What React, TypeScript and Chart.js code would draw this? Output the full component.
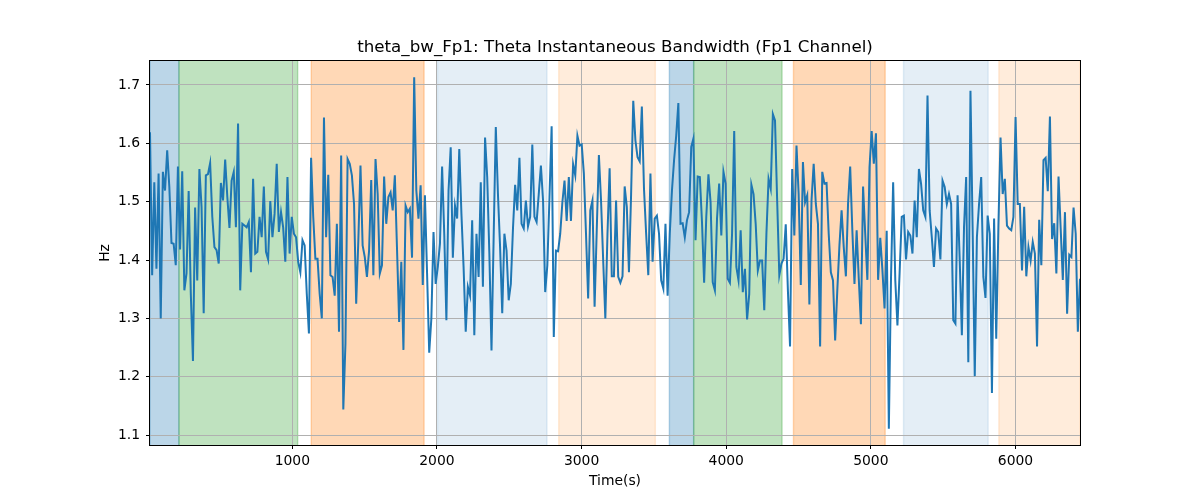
import React, { useEffect, useRef } from "react";
import { Chart, registerables } from "chart.js";

Chart.register(...registerables);

const TITLE = "theta_bw_Fp1: Theta Instantaneous Bandwidth (Fp1 Channel)";
const X_LABEL = "Time(s)";
const Y_LABEL = "Hz";

// sampling of the series (seconds)
const START_TIME = 16;
const TIME_STEP = 14.85;

// theta bandwidth values (Hz)
const bwValues = [
  1.619, 1.374, 1.533, 1.385, 1.548, 1.300, 1.551, 1.519, 1.588, 1.525, 1.429, 1.428, 1.391, 1.560, 1.418, 1.552, 1.348, 1.377, 1.518, 1.342, 1.227, 1.490, 1.365, 1.556, 1.491, 1.309, 1.545, 1.547, 1.566, 1.474, 1.422, 1.417, 1.394, 1.532, 1.502, 1.572, 1.508, 1.455, 1.536, 1.551, 1.456, 1.634, 1.348, 1.462,
  1.459, 1.456, 1.465, 1.379, 1.539, 1.411, 1.414, 1.474, 1.439, 1.526, 1.414, 1.401, 1.501, 1.439, 1.479, 1.565, 1.448, 1.482, 1.456, 1.397, 1.542, 1.411, 1.474, 1.445, 1.439, 1.397, 1.379, 1.434, 1.425, 1.342, 1.274, 1.575, 1.474, 1.402, 1.402, 1.342, 1.300, 1.644, 1.439, 1.546, 1.374, 1.371, 1.339, 1.462,
  1.277, 1.579, 1.144, 1.257, 1.573, 1.565, 1.545, 1.496, 1.325, 1.434, 1.562, 1.425, 1.405, 1.371, 1.416, 1.537, 1.374, 1.573, 1.513, 1.377, 1.391, 1.543, 1.462, 1.508, 1.516, 1.485, 1.545, 1.420, 1.294, 1.397, 1.246, 1.493, 1.482, 1.488, 1.404, 1.713, 1.519, 1.471, 1.528, 1.357, 1.511, 1.377, 1.241,
  1.300, 1.448, 1.359, 1.388, 1.428, 1.560, 1.445, 1.297, 1.519, 1.593, 1.404, 1.493, 1.471, 1.590, 1.479, 1.388, 1.277, 1.354, 1.339, 1.468, 1.271, 1.445, 1.371, 1.533, 1.354, 1.610, 1.542, 1.411, 1.245, 1.439, 1.628, 1.513, 1.422, 1.309, 1.445, 1.416, 1.331, 1.359, 1.454, 1.529, 1.485, 1.575, 1.462, 1.454, 1.502,
  1.458, 1.474, 1.598, 1.474, 1.465, 1.513, 1.562, 1.502, 1.345, 1.391, 1.508, 1.629, 1.268, 1.416, 1.415, 1.445, 1.499, 1.536, 1.467, 1.542, 1.467, 1.564, 1.545, 1.613, 1.596, 1.598, 1.548, 1.445, 1.334, 1.485, 1.502, 1.320, 1.451, 1.580, 1.502, 1.399, 1.300, 1.445, 1.557, 1.372, 1.372, 1.502, 1.371, 1.361,
  1.372, 1.526, 1.491, 1.379, 1.513, 1.673, 1.605, 1.576, 1.569, 1.663, 1.522, 1.445, 1.374, 1.548, 1.397, 1.471, 1.476, 1.445, 1.365, 1.351, 1.462, 1.339, 1.445, 1.518, 1.571, 1.613, 1.669, 1.462, 1.463, 1.439, 1.468, 1.482, 1.594, 1.608, 1.434, 1.543, 1.542, 1.465, 1.361, 1.474, 1.547, 1.499, 1.362, 1.348,
  1.471, 1.531, 1.442, 1.551, 1.531, 1.368, 1.361, 1.445, 1.621, 1.388, 1.365, 1.451, 1.345, 1.385, 1.298, 1.342, 1.529, 1.513, 1.462, 1.382, 1.399, 1.399, 1.314, 1.445, 1.539, 1.522, 1.650, 1.639, 1.502, 1.374, 1.394, 1.402, 1.461, 1.348, 1.252, 1.556, 1.442, 1.596, 1.513, 1.357, 1.568, 1.499, 1.511, 1.324, 1.502, 1.565,
  1.496, 1.462, 1.252, 1.551, 1.531, 1.532, 1.445, 1.379, 1.365, 1.262, 1.348, 1.425, 1.485, 1.422, 1.372, 1.496, 1.560, 1.451, 1.359, 1.451, 1.368, 1.290, 1.526, 1.445, 1.366, 1.559, 1.621, 1.565, 1.617, 1.366, 1.438, 1.383, 1.317, 1.450, 1.111, 1.368, 1.533, 1.365, 1.288, 1.377, 1.474, 1.476, 1.401,
  1.448, 1.442, 1.411, 1.502, 1.439, 1.556, 1.531, 1.485, 1.474, 1.682, 1.485, 1.439, 1.388, 1.454, 1.448, 1.401, 1.536, 1.525, 1.496, 1.513, 1.496, 1.297, 1.291, 1.511, 1.399, 1.271, 1.456, 1.542, 1.225, 1.690, 1.456, 1.201, 1.439, 1.496, 1.542, 1.371, 1.335, 1.476, 1.445, 1.172, 1.471, 1.265, 1.456, 1.610, 1.513,
  1.539, 1.459, 1.454, 1.451, 1.474, 1.645, 1.496, 1.496, 1.382, 1.491, 1.372, 1.422, 1.399, 1.431, 1.411, 1.252, 1.469, 1.391, 1.571, 1.575, 1.518, 1.646, 1.436, 1.463, 1.377, 1.543, 1.454, 1.366, 1.482, 1.308, 1.409, 1.405, 1.490, 1.445, 1.277, 1.368,
];

const xTicks = [1000, 2000, 3000, 4000, 5000, 6000];
const yTicks = [1.1, 1.2, 1.3, 1.4, 1.5, 1.6, 1.7];
const Y_MIN = 1.083;
const Y_MAX = 1.741;

// shaded stage bands
const bandStarts = [16, 216, 1131, 2004, 2842, 3607, 3775, 4465, 5226, 5885];
const bandEnds = [216, 1037, 1911, 2761, 3510, 3775, 4386, 5099, 5811, 6447];
const bandColors = [
  "31,119,180", "44,160,44", "255,127,14", "31,119,180", "255,127,14",
  "31,119,180", "44,160,44", "255,127,14", "31,119,180", "255,127,14",
];
const bandAlphas = [0.3, 0.3, 0.3, 0.12, 0.15, 0.3, 0.3, 0.3, 0.12, 0.15];

const FONT = "DejaVu Sans";

export default function App() {
  const canvasRef = useRef<HTMLCanvasElement | null>(null);

  useEffect(() => {
    const canvas = canvasRef.current;
    if (!canvas) return;
    Chart.defaults.font.family = FONT;

    const times = bwValues.map((_, i) => START_TIME + i * TIME_STEP);
    const points = bwValues.map((v, i) => ({ x: times[i], y: v }));

    const bandPlugin = {
      id: "bands",
      beforeDraw(chart: any) {
        const { ctx, chartArea } = chart;
        const { top, bottom, left, right } = chartArea;
        const xs = chart.scales.x;
        ctx.save();
        ctx.beginPath();
        ctx.rect(left, top, right - left, bottom - top);
        ctx.clip();
        bandStarts.forEach((s, i) => {
          const x0 = xs.getPixelForValue(s);
          const x1 = xs.getPixelForValue(bandEnds[i]);
          const col = `rgba(${bandColors[i]},${bandAlphas[i]})`;
          ctx.fillStyle = col;
          ctx.fillRect(x0, top, x1 - x0, bottom - top);
          ctx.strokeStyle = col;
          ctx.lineWidth = 1.4;
          ctx.beginPath();
          ctx.moveTo(x0, top);
          ctx.lineTo(x0, bottom);
          ctx.moveTo(x1, top);
          ctx.lineTo(x1, bottom);
          ctx.stroke();
        });
        ctx.restore();
      },
      afterDraw(chart: any) {
        const { ctx, chartArea } = chart;
        const { top, bottom, left, right } = chartArea;
        ctx.save();
        ctx.strokeStyle = "#000";
        ctx.lineWidth = 1;
        ctx.strokeRect(left - 0.5, top - 0.5, right - left + 1, bottom - top + 1);
        ctx.fillStyle = "#000";
        ctx.font = `16.7px "${FONT}"`;
        ctx.textAlign = "center";
        ctx.textBaseline = "alphabetic";
        ctx.fillText(TITLE, (left + right) / 2, 52);
        ctx.restore();
      },
    };

    const chart = new Chart(canvas, {
      type: "line",
      data: {
        datasets: [
          {
            data: points,
            borderColor: "#1f77b4",
            borderWidth: 2,
            pointRadius: 0,
            pointHoverRadius: 0,
            fill: false,
            tension: 0,
            clip: 0,
          } as any,
        ],
      },
      options: {
        responsive: false,
        animation: false,
        events: [],
        layout: { padding: { top: 61, right: 120, left: 0, bottom: 0 } },
        plugins: {
          legend: { display: false },
          tooltip: { enabled: false },
          title: { display: false },
        },
        scales: {
          x: {
            type: "linear",
            min: times[0],
            max: times[times.length - 1],
            afterBuildTicks: (s: any) => {
              s.ticks = xTicks.map((v) => ({ value: v }));
            },
            afterFit: (s: any) => {
              s.height = 55;
            },
            grid: {
              color: "#b0b0b0",
              lineWidth: 1,
              tickColor: "#000",
              tickLength: 4,
              drawTicks: true,
            },
            border: { display: false },
            ticks: {
              padding: 4,
              color: "#000",
              font: { size: 13.9 },
              maxRotation: 0,
              autoSkip: false,
              callback: (v: any) => String(v),
            },
            title: {
              display: true,
              text: X_LABEL,
              color: "#000",
              font: { size: 13.9 },
              padding: { top: 0, bottom: 10.5 },
            },
          },
          y: {
            type: "linear",
            min: Y_MIN,
            max: Y_MAX,
            afterBuildTicks: (s: any) => {
              s.ticks = yTicks.map((v) => ({ value: v }));
            },
            afterFit: (s: any) => {
              s.width = 150;
            },
            grid: {
              color: "#b0b0b0",
              lineWidth: 1,
              tickColor: "#000",
              tickLength: 4,
              drawTicks: true,
            },
            border: { display: false },
            ticks: {
              padding: 6,
              color: "#000",
              font: { size: 13.9 },
              autoSkip: false,
              callback: (v: any) => Number(v).toFixed(1),
            },
            title: {
              display: true,
              text: Y_LABEL,
              color: "#000",
              font: { size: 13.9 },
              padding: { top: 97.5, bottom: 0 },
            },
          },
        },
      },
      plugins: [bandPlugin],
    });

    return () => {
      chart.destroy();
    };
  }, []);

  return (
    <div style={{ position: "absolute", left: 0, top: 0, width: 1200, height: 500, background: "#fff" }}>
      <canvas ref={canvasRef} width={1200} height={500} />
    </div>
  );
}
